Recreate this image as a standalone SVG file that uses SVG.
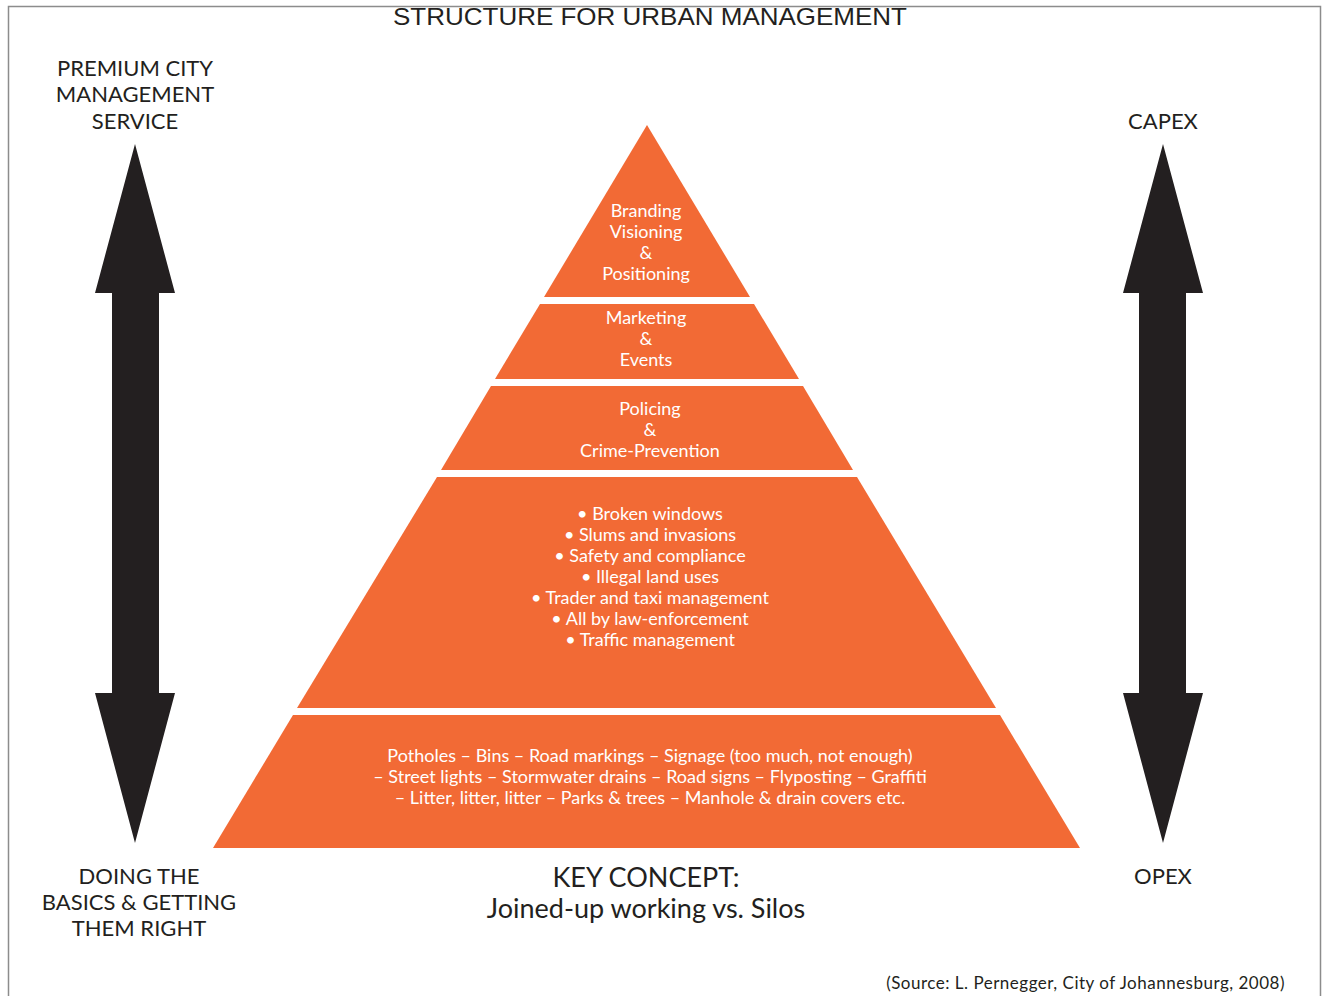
<svg xmlns="http://www.w3.org/2000/svg" width="1325" height="996" viewBox="0 0 1325 996">
<style>
.band{fill:#F26A35}
.arrow{fill:#231F20}
.wt{fill:#FFFFFF;font-family:Lato,"Noto Sans",sans-serif;font-size:18px;text-anchor:middle}
.lbl{fill:#231F20;font-family:Lato,"Noto Sans",sans-serif;font-size:22px;text-anchor:middle}
.key{fill:#231F20;font-family:Lato,"Noto Sans",sans-serif;font-size:27px;text-anchor:middle}
</style>
<rect x="0" y="0" width="1325" height="996" fill="#FFFFFF"/>
<path d="M8.5 996 V6.5 H1320.5 V996" fill="none" stroke="#8C8C8C" stroke-width="1.5"/>
<text x="650" y="25" font-family="'Liberation Sans',Arial,sans-serif" font-size="24" fill="#231F20" text-anchor="middle" textLength="514" lengthAdjust="spacingAndGlyphs">STRUCTURE FOR URBAN MANAGEMENT</text>

<g id="connectors">
<polygon id="arrow-left" class="arrow" points="135,144 175,293 159,293 159,693 175,693 135,843 95,693 112,693 112,293 95,293"/>
<polygon id="arrow-right" class="arrow" points="1163,144 1203,293 1186,293 1186,693 1203,693 1163,843 1123,693 1139,693 1139,293 1123,293"/>
</g>

<g id="label-premium">
<text class="lbl" x="135" y="76">PREMIUM CITY</text>
<text class="lbl" x="135" y="102">MANAGEMENT</text>
<text class="lbl" x="135" y="129">SERVICE</text>
</g>
<g id="label-capex"><text class="lbl" x="1163" y="129">CAPEX</text></g>
<g id="label-basics">
<text class="lbl" x="139" y="884">DOING THE</text>
<text class="lbl" x="139" y="910">BASICS &amp; GETTING</text>
<text class="lbl" x="139" y="936">THEM RIGHT</text>
</g>
<g id="label-opex"><text class="lbl" x="1163" y="884">OPEX</text></g>

<g id="band1">
<polygon class="band" points="647,125 750,297 544,297"/>
<text class="wt" x="646" y="217">Branding</text>
<text class="wt" x="646" y="238">Visioning</text>
<text class="wt" x="646" y="259">&amp;</text>
<text class="wt" x="646" y="280">Positioning</text>
</g>
<g id="band2">
<polygon class="band" points="540,304 754,304 799,379 495,379"/>
<text class="wt" x="646" y="324">Marketing</text>
<text class="wt" x="646" y="345">&amp;</text>
<text class="wt" x="646" y="366">Events</text>
</g>
<g id="band3">
<polygon class="band" points="491,386 803,386 853,470 441,470"/>
<text class="wt" x="650" y="415">Policing</text>
<text class="wt" x="650" y="436">&amp;</text>
<text class="wt" x="650" y="457">Crime-Prevention</text>
</g>
<g id="band4">
<polygon class="band" points="437,477 857,477 996,708 297,708"/>
<text class="wt" x="650" y="520">• Broken windows</text>
<text class="wt" x="650" y="541">• Slums and invasions</text>
<text class="wt" x="650" y="562">• Safety and compliance</text>
<text class="wt" x="650" y="583">• Illegal land uses</text>
<text class="wt" x="650" y="604">• Trader and taxi management</text>
<text class="wt" x="650" y="625">• All by law-enforcement</text>
<text class="wt" x="650" y="646">• Traffic management</text>
</g>
<g id="band5">
<polygon class="band" points="293,715 1000,715 1080,848 213,848"/>
<text class="wt" x="650" y="762">Potholes – Bins – Road markings – Signage (too much, not enough)</text>
<text class="wt" x="650" y="783">– Street lights – Stormwater drains – Road signs – Flyposting – Graffiti</text>
<text class="wt" x="650" y="804">– Litter, litter, litter – Parks &amp; trees – Manhole &amp; drain covers etc.</text>
</g>

<g id="key-concept">
<text class="key" x="646" y="887">KEY CONCEPT:</text>
<text class="key" x="646" y="918">Joined-up working vs. Silos</text>
</g>
<g id="source">
<text x="1285" y="989" font-family="Lato,'Noto Sans',sans-serif" font-size="17" letter-spacing="0.5" fill="#231F20" text-anchor="end">(Source: L. Pernegger, City of Johannesburg, 2008)</text>
</g>
</svg>
